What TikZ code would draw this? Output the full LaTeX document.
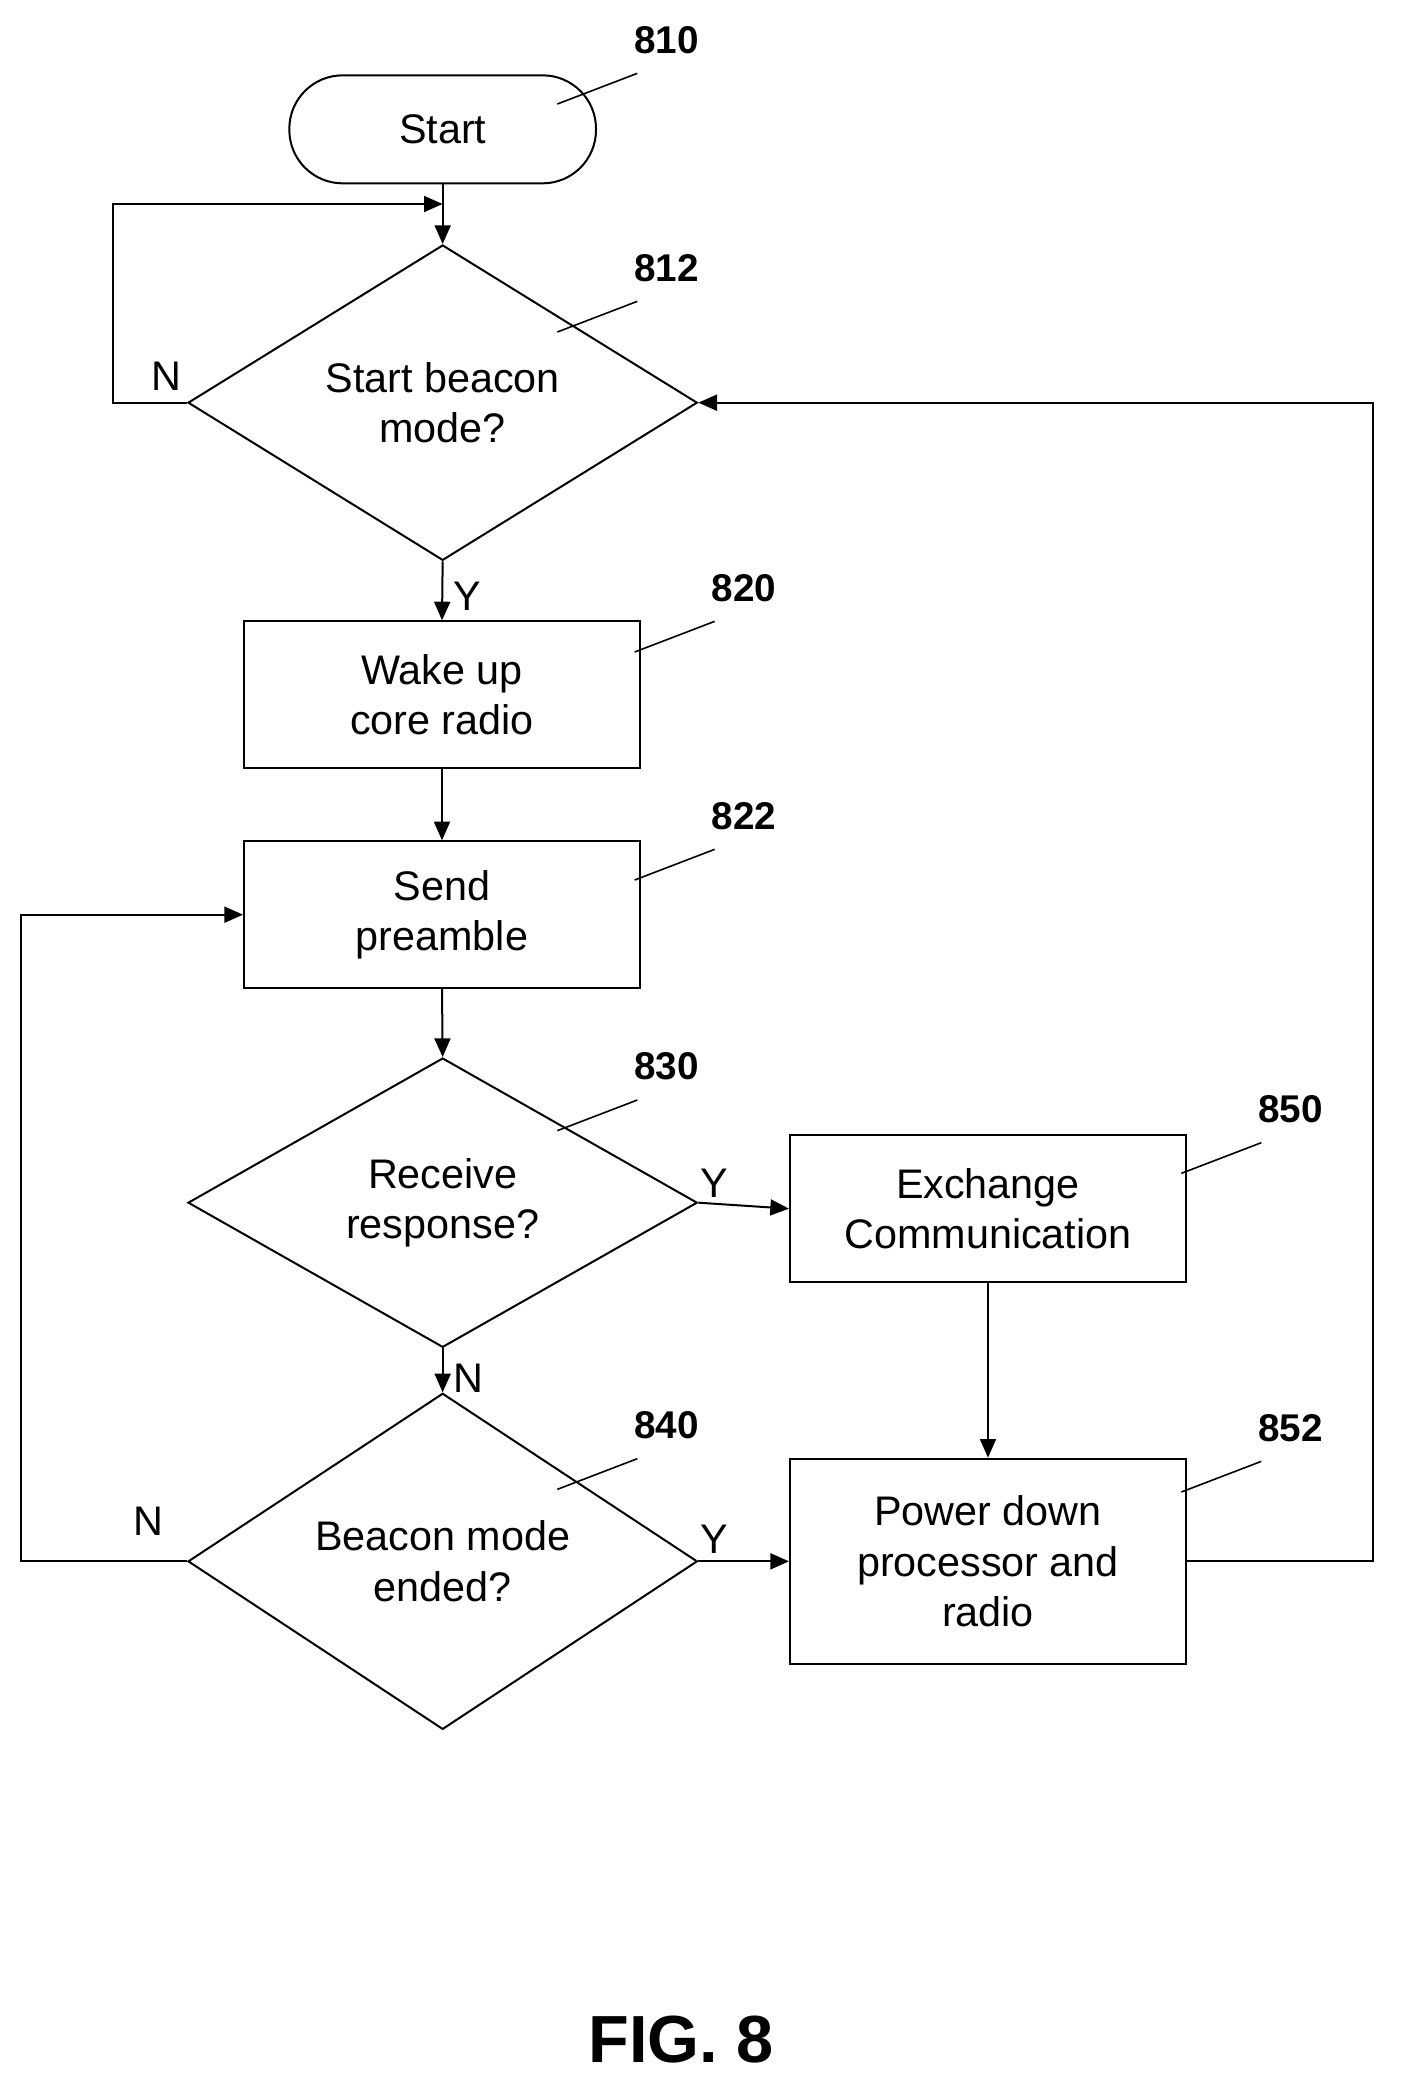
\documentclass[tikz,border=0pt]{standalone}
\usepackage{fontspec}
\setmainfont{Liberation Sans}
\usetikzlibrary{shapes.geometric,arrows.meta}
\begin{document}
\begin{tikzpicture}[x=1pt,y=-1pt,
  every node/.style={font=\fontsize{31}{38}\selectfont},
  box/.style={draw,line width=1.5pt,minimum width=297pt,minimum height=110pt,align=center,inner sep=0pt},
  dia/.style={draw,line width=1.5pt,diamond,minimum width=382pt,minimum height=217pt,align=center,inner sep=0pt},
  arr/.style={line width=1.5pt,-{Triangle[length=14pt,width=12pt]}},
  ln/.style={line width=1.5pt},
  lead/.style={line width=1.2pt},
  ref/.style={font=\fontsize{29}{34}\selectfont\bfseries}]
\useasboundingbox (0,0) rectangle (1050,1572);
\node[draw,line width=1.5pt,rounded corners=40pt,minimum width=230pt,minimum height=81pt] (start) at (332,97) {Start};
\node[dia] (d812) at (332,302) {Start beacon\\mode?};
\node[box] (b820) at (331.5,521) {Wake up\\core radio};
\node[box] (b822) at (331.5,686) {Send\\preamble};
\node[dia] (d830) at (332,902) {Receive\\response?};
\node[box] (b850) at (741,906.5) {Exchange\\Communication};
\node[dia] (d840) at (332,1171) {Beacon mode\\ended?};
\node[box,minimum height=154pt] (b852) at (741,1171) {Power down\\processor and\\radio};
\coordinate (j1) at (332,153);
\coordinate (c1) at (85,302); \coordinate (c2) at (85,153);
\coordinate (r1) at (1030,1171); \coordinate (r2) at (1030,302);
\coordinate (l1) at (16,1171); \coordinate (l2) at (16,686);
\draw[arr] (start.south) -- (d812.north);
\draw[arr] (d812.west) -- (c1) -- (c2) -- (j1);
\draw[arr] (d812.south) -- node[right,xshift=4pt,yshift=-4pt]{Y} (b820.north);
\draw[arr] (b820.south) -- (b822.north);
\draw[arr] (b822.south) -- (d830.north);
\draw[arr] (d830.east) -- node[above,yshift=2pt,xshift=-22pt]{Y} (b850.west);
\draw[arr] (d830.south) -- node[right,xshift=4pt,yshift=-6pt]{N} (d840.north);
\draw[arr] (b850.south) -- (b852.north);
\draw[arr] (d840.east) -- node[above,yshift=2pt,xshift=-22pt]{Y} (b852.west);
\draw[arr] (b852.east) -- (r1) -- (r2) -- (d812.east);
\draw[arr] (d840.west) -- (l1) -- (l2) -- (b822.west);
\node at (125,282) (n1) {N};
\node at (111,1141) (n2) {N};
\node[ref] (t810) at (500,30) {810}; \draw[lead] (418,78) -- (478,55);
\node[ref] (t812) at (500,201) {812}; \draw[lead] (418,249) -- (478,226);
\node[ref] (t820) at (558,441) {820}; \draw[lead] (476,489) -- (536,466);
\node[ref] (t822) at (558,612) {822}; \draw[lead] (476,660) -- (536,637);
\node[ref] (t830) at (500,800) {830}; \draw[lead] (418,848) -- (478,825);
\node[ref] (t850) at (968,832) {850}; \draw[lead] (886,880) -- (946,857);
\node[ref] (t840) at (500,1069) {840}; \draw[lead] (418,1117) -- (478,1094);
\node[ref] (t852) at (968,1071) {852}; \draw[lead] (886,1119) -- (946,1096);
\node[font=\fontsize{50}{56}\selectfont\bfseries] (fig) at (511,1530) {FIG. 8};
\end{tikzpicture}
\end{document}
